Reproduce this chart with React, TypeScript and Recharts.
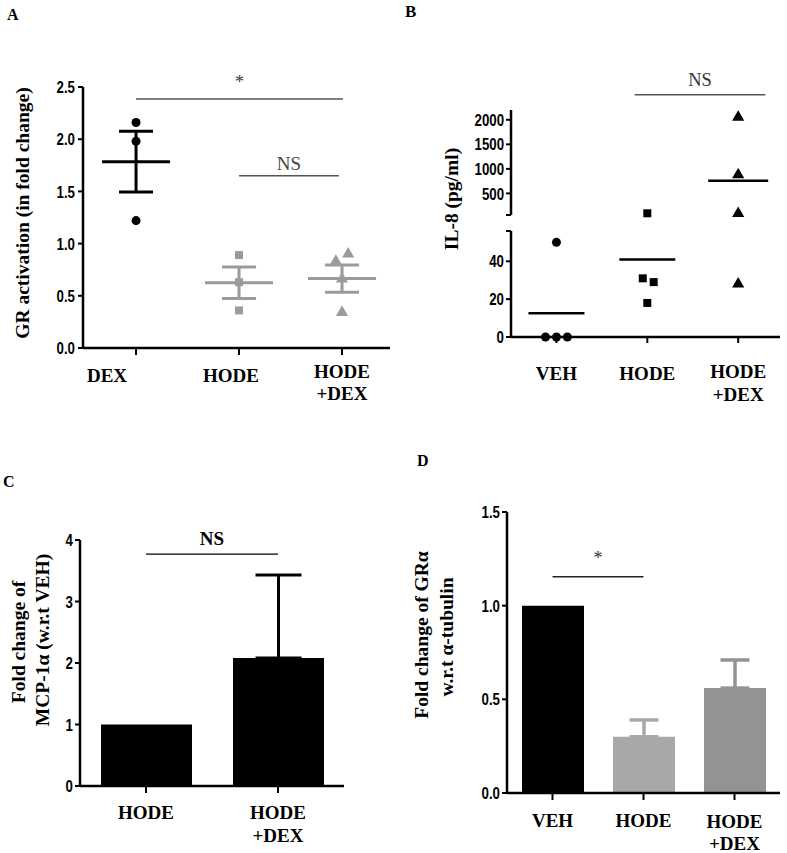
import React from 'react';
import {
  ScatterChart, Scatter, XAxis, YAxis, ZAxis, ReferenceLine, ErrorBar,
  BarChart, Bar,
} from 'recharts';

const SERIF = '"Liberation Serif", "Times New Roman", Times, serif';
const SANS = '"Liberation Sans", Arial, "DejaVu Sans", sans-serif';
const GRAY_A = '#9b9b9b';

// ---------------- Panel A: GR activation ----------------
const catA = ['DEX', 'HODE', 'HODE +DEX'];
const dexY = [2.16, 1.98, 1.22];
const dexX = [1, 1, 1];
const hodeAY = [0.89, 0.63, 0.36];
const hodeAX = [2, 2, 2];
const hodeDexAY = [0.9, 0.83, 0.66, 0.34];
const hodeDexAX = [3.06, 2.94, 3.0, 3.0];
const meanA = [1.785, 0.625, 0.665];
const semA = [0.29, 0.15, 0.13];
const yTicksA = [0, 0.5, 1.0, 1.5, 2.0, 2.5];
const sigA = [
  { from: 1, to: 3.01, y: 2.385, text: '*' },
  { from: 2, to: 2.97, y: 1.65, text: 'NS' },
];

// ---------------- Panel B: IL-8 ----------------
const catB = ['VEH', 'HODE', 'HODE +DEX'];
const vehBY = [50, 0, 0, 0];
const vehBX = [1, 0.88, 1, 1.12];
const hodeBY = [95, 31, 29, 18];
const hodeBX = [2, 1.95, 2.07, 2];
const hodeDexBY = [2050, 880, 90, 28];
const hodeDexBX = [3, 3, 3, 3];
const meanB = [12.5, 41, 760];
const lowerDomainB = [0, 56];
const upperDomainB = [60, 2200];
const lowerTicksB = [0, 20, 40, 56];
const upperTicksB = [60, 500, 1000, 1500, 2000];
const sigB = { from: 1.86, to: 3.3, y: 2510, text: 'NS' };

// ---------------- Panel C: MCP-1a ----------------
const catC = ['HODE', 'HODE +DEX'];
const valC = [1.0, 2.08];
const sdC = [0, 1.35];
const yTicksC = [0, 1, 2, 3, 4];
const sigC = { from: 'HODE', to: 'HODE +DEX', y: 3.77, text: 'NS' };

// ---------------- Panel D: GRa ----------------
const catD = ['VEH', 'HODE', 'HODE +DEX'];
const valD = [1.0, 0.3, 0.56];
const sdD = [0, 0.09, 0.15];
const colD = ['#000000', '#a8a8a8', '#939393'];
const yTicksD = [0, 0.5, 1.0, 1.5];
const sigD = { from: 'VEH', to: 'HODE', y: 1.154, text: '*' };

// ---------------- helpers ----------------
const pts = (xs: number[], ys: number[]) => ys.map((y, i) => ({ x: xs[i], y }));

const makeCatTick =
  (labelOf: (v: any) => string, twoDy: number, oneDy: number, lineH: number, shift: Record<string, number> = {}) =>
  (props: any) => {
    const { x, y, payload } = props;
    const label = labelOf(payload.value);
    const lines = label.split(' ');
    const dx = shift[label] || 0;
    return (
      <text x={x + dx} y={y} textAnchor="middle" fontFamily={SERIF} fontWeight={700} fontSize={19} fill="#000">
        {lines.map((l, i) => (
          <tspan key={i} x={x + dx} dy={i === 0 ? (lines.length > 1 ? twoDy : oneDy) : lineH}>
            {l}
          </tspan>
        ))}
      </text>
    );
  };

// condensed bold numeric tick for the value axes
const makeYTick = (fmt: (v: number) => string) => (props: any) => {
  const { x, y, payload } = props;
  const s = fmt(payload.value);
  if (!s) return <g />;
  return (
    <text
      x={0} y={0} transform={`translate(${x},${y}) scale(0.78,1)`}
      textAnchor="end" dominantBaseline="central"
      fontFamily={SANS} fontWeight={700} fontSize={17} fill="#000"
    >
      {s}
    </text>
  );
};

const meanShape = (half: number, color: string, sw: number) => (p: any) =>
  <line x1={p.cx - half} x2={p.cx + half} y1={p.cy} y2={p.cy} stroke={color} strokeWidth={sw} />;

const axisLine = { stroke: '#000', strokeWidth: 2.5 };
const tickLine = { stroke: '#000', strokeWidth: 2 };

// ---------------- panels ----------------
function PanelA() {
  const meanDex = [{ x: 1, y: meanA[0], err: semA[0] }];
  const meanGray = [
    { x: 2, y: meanA[1], err: semA[1] },
    { x: 3, y: meanA[2], err: semA[2] },
  ];
  return (
    <ScatterChart width={390} height={420} margin={{ top: 87, right: 0, bottom: 12, left: 0 }}>
      <ZAxis range={[55, 55]} />
      <XAxis
        type="number" dataKey="x" domain={[0.485, 3.466]} ticks={[1, 2, 3]} interval={0}
        height={60} tickSize={7} tickMargin={2} axisLine={axisLine} tickLine={tickLine}
        tick={makeCatTick((v) => catA[v - 1], 20.5, 24.5, 22.5, { DEX: -29, HODE: -8 })}
      />
      <YAxis
        type="number" dataKey="y" domain={[0, 2.5]} ticks={yTicksA} interval={0} width={83}
        tickSize={5} tickMargin={3} axisLine={axisLine} tickLine={tickLine}
        tick={makeYTick((v) => v.toFixed(1))}
      />
      <Scatter data={pts(dexX, dexY)} shape="circle" fill="#000" isAnimationActive={false} />
      <Scatter data={pts(hodeAX, hodeAY)} shape="square" fill={GRAY_A} isAnimationActive={false} />
      <Scatter data={pts(hodeDexAX, hodeDexAY)} shape="triangle" fill={GRAY_A} isAnimationActive={false} />
      <Scatter data={meanDex} shape={meanShape(34, '#000', 3)} isAnimationActive={false}>
        <ErrorBar dataKey="err" direction="y" width={17} stroke="#000" strokeWidth={3} />
      </Scatter>
      <Scatter data={meanGray} shape={meanShape(34, GRAY_A, 3)} isAnimationActive={false}>
        <ErrorBar dataKey="err" direction="y" width={17} stroke={GRAY_A} strokeWidth={3} />
      </Scatter>
      <ReferenceLine
        segment={[{ x: sigA[0].from, y: sigA[0].y }, { x: sigA[0].to, y: sigA[0].y }]}
        stroke="#555" strokeWidth={1.5} ifOverflow="visible"
        label={{ value: sigA[0].text, position: 'top', offset: 11, fill: '#333', fontSize: 18, fontFamily: SERIF }}
      />
      <ReferenceLine
        segment={[{ x: sigA[1].from, y: sigA[1].y }, { x: sigA[1].to, y: sigA[1].y }]}
        stroke="#555" strokeWidth={1.5} ifOverflow="visible"
        label={{ value: sigA[1].text, position: 'top', offset: 6, fill: '#444', fontSize: 19, fontFamily: SERIF }}
      />
    </ScatterChart>
  );
}

function PanelBUpper() {
  const inUp = (x: number[], y: number[]) => pts(x, y).filter((p) => p.y > lowerDomainB[1]);
  const means = meanB.map((m, i) => ({ x: i + 1, y: m })).filter((p) => p.y > lowerDomainB[1]);
  return (
    <ScatterChart width={397} height={220} margin={{ top: 110, right: 7, bottom: 5, left: 0 }}>
      <ZAxis range={[55, 55]} />
      <XAxis type="number" dataKey="x" domain={[0.5, 3.46]} hide />
      <YAxis
        type="number" dataKey="y" domain={upperDomainB} ticks={upperTicksB} interval={0} width={121}
        tickSize={5} tickMargin={2} axisLine={axisLine} tickLine={tickLine}
        tick={makeYTick((v) => (v === upperDomainB[0] ? '' : String(v)))}
      />
      <Scatter data={inUp(vehBX, vehBY)} shape="circle" fill="#000" isAnimationActive={false} />
      <Scatter data={inUp(hodeBX, hodeBY)} shape="square" fill="#000" isAnimationActive={false} />
      <Scatter data={inUp(hodeDexBX, hodeDexBY)} shape="triangle" fill="#000" isAnimationActive={false} />
      <Scatter data={means} shape={meanShape(30, '#000', 2.5)} isAnimationActive={false} />
      <ReferenceLine
        segment={[{ x: sigB.from, y: sigB.y }, { x: sigB.to, y: sigB.y }]}
        stroke="#555" strokeWidth={1.5} ifOverflow="visible"
        label={{ value: sigB.text, position: 'top', offset: 9, fill: '#333', fontSize: 18.5, fontFamily: SERIF }}
      />
    </ScatterChart>
  );
}

function PanelBLower() {
  const inLow = (x: number[], y: number[]) => pts(x, y).filter((p) => p.y <= lowerDomainB[1]);
  const means = meanB.map((m, i) => ({ x: i + 1, y: m })).filter((p) => p.y <= lowerDomainB[1]);
  return (
    <ScatterChart width={397} height={204} margin={{ top: 15, right: 7, bottom: 13, left: 0 }}>
      <ZAxis range={[55, 55]} />
      <XAxis
        type="number" dataKey="x" domain={[0.5, 3.46]} ticks={[1, 2, 3]} interval={0}
        height={70} tickSize={6} tickMargin={3} axisLine={axisLine} tickLine={tickLine}
        tick={makeCatTick((v) => catB[v - 1], 32, 33.5, 22.5)}
      />
      <YAxis
        type="number" dataKey="y" domain={lowerDomainB} ticks={lowerTicksB} interval={0} width={121}
        tickSize={5} tickMargin={2} axisLine={axisLine} tickLine={tickLine}
        tick={makeYTick((v) => (v === lowerDomainB[1] ? '' : String(v)))}
      />
      <Scatter data={means} shape={meanShape(28, '#000', 2.5)} isAnimationActive={false} />
      <Scatter data={inLow(vehBX, vehBY)} shape="circle" fill="#000" isAnimationActive={false} />
      <Scatter data={inLow(hodeBX, hodeBY)} shape="square" fill="#000" isAnimationActive={false} />
      <Scatter data={inLow(hodeDexBX, hodeDexBY)} shape="triangle" fill="#000" isAnimationActive={false} />
    </ScatterChart>
  );
}

function PanelC() {
  const data = catC.map((name, i) => ({ name, value: valC[i], err: sdC[i] ? [0, sdC[i]] : null }));
  return (
    <BarChart width={390} height={423} data={data} margin={{ top: 110, right: 46, bottom: 12, left: 0 }}>
      <XAxis
        dataKey="name" interval={0} height={55} tickSize={7} tickMargin={2}
        axisLine={axisLine} tickLine={tickLine}
        tick={makeCatTick((v) => String(v), 23.5, 23.5, 23)}
      />
      <YAxis
        type="number" domain={[0, 4]} ticks={yTicksC} interval={0} width={80}
        tickSize={5} tickMargin={2} axisLine={axisLine} tickLine={tickLine}
        tick={makeYTick((v) => String(v))}
      />
      <Bar dataKey="value" fill="#000" barSize={91} isAnimationActive={false}>
        <ErrorBar dataKey="err" direction="y" width={23} stroke="#000" strokeWidth={3} />
      </Bar>
      <ReferenceLine
        segment={[{ x: sigC.from, y: sigC.y }, { x: sigC.to, y: sigC.y }]}
        stroke="#000" strokeWidth={1.2} ifOverflow="visible"
        label={{ value: sigC.text, position: 'top', offset: 9, fill: '#000', fontSize: 19, fontWeight: 700, fontFamily: SERIF }}
      />
    </BarChart>
  );
}

function PanelD() {
  const data = catD.map((name, i) => {
    const o: any = { name };
    catD.forEach((_, j) => {
      o['v' + j] = i === j ? valD[i] : null;
      o['e' + j] = i === j && sdD[i] ? [0, sdD[i]] : null;
    });
    return o;
  });
  return (
    <BarChart width={397} height={423} data={data} barGap={-62} margin={{ top: 82, right: 7, bottom: 5, left: 0 }}>
      <XAxis
        dataKey="name" interval={0} height={55} tickSize={7} tickMargin={2}
        axisLine={axisLine} tickLine={tickLine}
        tick={makeCatTick((v) => String(v), 25.5, 24.5, 22)}
      />
      <YAxis
        type="number" domain={[0, 1.5]} ticks={yTicksD} interval={0} width={117}
        tickSize={5} tickMargin={2} axisLine={axisLine} tickLine={tickLine}
        tick={makeYTick((v) => v.toFixed(1))}
      />
      {catD.map((_, j) => (
        <Bar key={j} dataKey={'v' + j} fill={colD[j]} barSize={62} isAnimationActive={false}>
          <ErrorBar dataKey={'e' + j} direction="y" width={14.5} stroke={colD[j]} strokeWidth={3.5} />
        </Bar>
      ))}
      <ReferenceLine
        segment={[{ x: sigD.from, y: sigD.y }, { x: sigD.to, y: sigD.y }]}
        stroke="#222" strokeWidth={1.5} ifOverflow="visible"
        label={{ value: sigD.text, position: 'top', offset: 13, fill: '#333', fontSize: 18, fontFamily: SERIF }}
      />
    </BarChart>
  );
}

const titleProps = { fontFamily: SERIF, fontWeight: 700, fill: '#000' } as const;

export default function App() {
  return (
    <div style={{ position: 'absolute', left: 0, top: 0, width: 787, height: 853, background: '#fff', overflow: 'hidden' }}>
      <div style={{ position: 'absolute', left: 0, top: 0 }}><PanelA /></div>
      <div style={{ position: 'absolute', left: 390, top: 0 }}><PanelBUpper /></div>
      <div style={{ position: 'absolute', left: 390, top: 216 }}><PanelBLower /></div>
      <div style={{ position: 'absolute', left: 0, top: 430 }}><PanelC /></div>
      <div style={{ position: 'absolute', left: 390, top: 430 }}><PanelD /></div>
      <svg width={787} height={853} style={{ position: 'absolute', left: 0, top: 0, pointerEvents: 'none' }}>
        <text x={7} y={20} fontSize={16} {...titleProps}>A</text>
        <text x={405} y={17} fontSize={17} {...titleProps}>B</text>
        <text x={3} y={487} fontSize={16} {...titleProps}>C</text>
        <text x={417} y={466} fontSize={16} {...titleProps}>D</text>

        <text transform="translate(22,213) rotate(-90)" textAnchor="middle" dominantBaseline="central" fontSize={19.5} {...titleProps}>
          GR activation  (in fold change)
        </text>
        <text transform="translate(451,199) rotate(-90)" textAnchor="middle" dominantBaseline="central" fontSize={19.5} {...titleProps}>
          IL-8 (pg/ml)
        </text>
        <text transform="translate(18,642) rotate(-90)" textAnchor="middle" dominantBaseline="central" fontSize={19.5} {...titleProps}>
          Fold change of
        </text>
        <text transform="translate(42,640) rotate(-90)" textAnchor="middle" dominantBaseline="central" fontSize={19.5} {...titleProps}>
          MCP-1α (w.r.t VEH)
        </text>
        <text transform="translate(421,635) rotate(-90)" textAnchor="middle" dominantBaseline="central" fontSize={19.5} {...titleProps}>
          Fold change of GRα
        </text>
        <text transform="translate(446,637) rotate(-90)" textAnchor="middle" dominantBaseline="central" fontSize={19.5} {...titleProps}>
          w.r.t α-tubulin
        </text>
      </svg>
    </div>
  );
}
